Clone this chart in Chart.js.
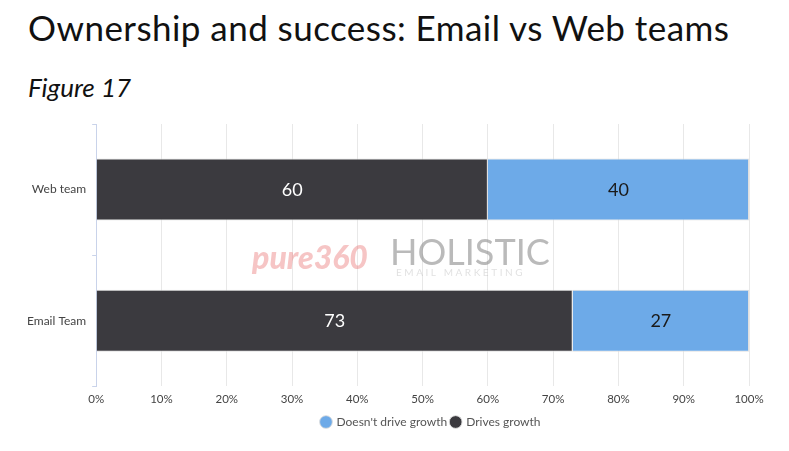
<!DOCTYPE html>
<html>
<head>
<meta charset="utf-8">
<script src="https://cdn.jsdelivr.net/npm/chart.js@4/dist/chart.umd.min.js"></script>
<style>
    html, body { margin: 0; padding: 0; background: #fff; }
    #wrap { position: relative; width: 789px; height: 451px; }
    #title { position: absolute; left: 28px; top: 6px; font-family: 'Lato', sans-serif; font-size: 35px; color: #111; letter-spacing: 0.45px; }
    #fig { position: absolute; left: 28px; top: 71px; font-family: 'Lato', sans-serif; font-style: italic; font-size: 26px; color: #111; }
    canvas { position: absolute; left: 0; top: 0; }
</style>
</head>
<body>
<div id="wrap">
    <div id="title">Ownership and success: Email vs Web teams</div>
    <div id="fig">Figure 17</div>
    <canvas id="chart" width="789" height="451"></canvas>
</div>
<script>
const categories = ['Web team', 'Email Team'];
const drivesGrowth = [60, 73];
const doesntDriveGrowth = [40, 27];
const xTicks = [0, 10, 20, 30, 40, 50, 60, 70, 80, 90, 100];

const darkColor = '#3b3a3f';
const blueColor = '#6daae8';
const tickColor = '#444';
const fontFamily = "'Lato', sans-serif";

// value labels in the middle of each bar segment
const barLabels = {
    id: 'barLabels',
    afterDatasetsDraw(chart) {
        const ctx = chart.ctx;
        ctx.save();
        ctx.font = '18px ' + fontFamily;
        ctx.textAlign = 'center';
        ctx.textBaseline = 'middle';
        chart.data.datasets.forEach((ds, i) => {
            chart.getDatasetMeta(i).data.forEach((bar, j) => {
                const x = (bar.x + bar.base) / 2;
                ctx.fillStyle = i === 0 ? '#fff' : '#1a1a1a';
                ctx.fillText(ds.data[j], x, bar.y + 1);
            });
        });
        ctx.restore();
    }
};

// faint watermark between the bars
const watermark = {
    id: 'watermark',
    beforeDatasetsDraw(chart) {
        const ctx = chart.ctx;
        const a = chart.chartArea;
        const y = (a.top + a.bottom) / 2;
        ctx.save();
        ctx.textBaseline = 'middle';
        ctx.fillStyle = 'rgba(232, 110, 110, 0.4)';
        ctx.font = 'italic 900 32px ' + fontFamily;
        ctx.fillText('pure360', 252, y + 4);
        ctx.fillStyle = 'rgba(130, 130, 130, 0.55)';
        ctx.font = '36px ' + fontFamily;
        ctx.fillText('HOLISTIC', 390, y - 2);
        ctx.fillStyle = 'rgba(170, 170, 170, 0.35)';
        ctx.font = '10px ' + fontFamily;
        ctx.fillText('E M A I L   M A R K E T I N G', 396, y + 18);
        ctx.restore();
    }
};

// legend in the reference sits right of the canvas centre
const legendShift = {
    id: 'legendShift',
    afterUpdate(chart) {
        chart.legend.left += 46;
        chart.legend.right += 46;
    }
};

new Chart(document.getElementById('chart'), {
    type: 'bar',
    data: {
        labels: categories,
        datasets: [
            {
                label: 'Drives growth',
                data: drivesGrowth,
                backgroundColor: darkColor,
                borderColor: 'rgba(220,220,220,0.9)',
                borderWidth: 1,
                barPercentage: 0.473,
                categoryPercentage: 1
            },
            {
                label: "Doesn't drive growth",
                data: doesntDriveGrowth,
                backgroundColor: blueColor,
                borderColor: 'rgba(220,220,220,0.9)',
                borderWidth: 1,
                barPercentage: 0.473,
                categoryPercentage: 1
            }
        ]
    },
    options: {
        indexAxis: 'y',
        responsive: false,
        animation: false,
        layout: { padding: { top: 124, left: 21, right: 40, bottom: 13 } },
        plugins: {
            legend: {
                position: 'bottom',
                reverse: true,
                labels: {
                    usePointStyle: true,
                    pointStyle: 'circle',
                    boxWidth: 9,
                    boxHeight: 9,
                    padding: 4,
                    color: '#555',
                    font: { family: fontFamily, size: 12 }
                }
            },
            tooltip: { enabled: false }
        },
        scales: {
            x: {
                stacked: true,
                min: 0,
                max: 100,
                afterBuildTicks(axis) {
                    axis.ticks = xTicks.map(v => ({ value: v }));
                },
                ticks: {
                    color: tickColor,
                    padding: 6,
                    font: { family: fontFamily, size: 11.5 },
                    callback: v => v + '%'
                },
                grid: { color: '#e8e8e8', drawTicks: false },
                border: { display: false }
            },
            y: {
                stacked: true,
                ticks: {
                    color: tickColor,
                    padding: 6,
                    font: { family: fontFamily, size: 12 }
                },
                grid: {
                    offset: true,
                    drawOnChartArea: false,
                    drawTicks: true,
                    tickLength: 4,
                    color: '#c9d3ea'
                },
                border: { display: true, color: '#c9d3ea' }
            }
        }
    },
    plugins: [barLabels, watermark, legendShift]
});
</script>
</body>
</html>
